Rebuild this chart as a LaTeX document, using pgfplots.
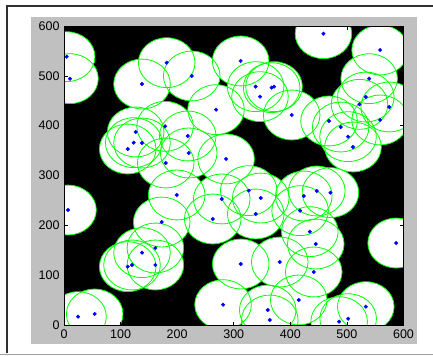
\documentclass[border=0pt]{standalone}
\usepackage{pgfplots}
\usepackage{pgfplotstable}
\pgfplotsset{compat=1.18}
\usepackage{fontspec}
\setmainfont{Liberation Sans}
\definecolor{figgray}{HTML}{C0C0C0}
\definecolor{frameDark}{HTML}{303030}
\definecolor{frameLight}{HTML}{A0A0A0}
\pgfdeclareplotmark{diskfill}{\pgfpathellipse{\pgfpointorigin}{\pgfqpoint{28.29pt}{0pt}}{\pgfqpoint{0pt}{24.92pt}}\pgfusepathqfill}
\pgfdeclareplotmark{diskline}{\pgfpathellipse{\pgfpointorigin}{\pgfqpoint{28.29pt}{0pt}}{\pgfqpoint{0pt}{24.92pt}}\pgfusepathqstroke}
\pgfplotstableread{
x y
4.7 538.4
10.6 494.3
181.5 526.4
225.7 499.7
137.9 483.6
312.2 529.8
338.7 478.3
346.4 458.2
367.0 476.3
371.2 478.3
268.7 432.1
402.4 421.4
458.5 584.6
558.7 551.8
539.3 494.3
533.4 457.5
522.2 442.8
574.7 437.5
558.7 411.4
468.4 409.4
489.0 397.3
502.0 377.9
510.8 357.2
178.6 398.7
126.7 387.3
123.2 365.9
137.9 365.2
112.6 353.2
218.7 379.3
220.4 345.2
179.8 325.1
286.5 333.2
199.2 260.9
278.8 252.9
326.5 269.6
347.7 254.8
338.9 222.7
262.9 212.7
423.8 258.8
446.8 268.9
470.9 265.6
417.3 229.4
434.4 187.3
445.0 162.5
441.4 106.4
381.3 126.4
312.4 122.4
414.9 50.2
360.1 30.1
363.7 10.0
486.3 6.7
502.2 12.7
533.4 36.8
281.1 40.8
587.0 164.5
7.1 230.7
172.7 206.6
137.9 145.1
161.5 154.5
120.2 120.4
112.6 117.0
161.5 120.4
24.8 16.7
54.2 22.1
}\centers
\begin{document}
\begin{tikzpicture}[x=1pt,y=1pt]
\path[use as bounding box] (0,0) rectangle (433,356);
\fill[white] (0,0) rectangle (433,356);
\draw[frameLight, line width=1pt] (0,1.5) -- (433,1.5);
\draw[frameDark, line width=1.6pt] (7,3) -- (7,350) -- (433,350);
\fill[figgray] (31,12.5) rectangle (416.5,339.3);
\begin{axis}[
  at={(64pt,31pt)}, anchor=south west,
  scale only axis, width=339.5pt, height=299pt,
  xmin=0, xmax=600, ymin=0, ymax=600,
  xtick={0,100,...,600}, ytick={0,100,...,600},
  axis background/.style={fill=black},
  axis on top,
  clip marker paths=true,
  tick align=inside,
  major tick length=3.5pt,
  tick style={black, line width=0.6pt},
  axis line style={black, line width=0.8pt},
  /pgf/number format/assume math mode=true,
  ticklabel style={font=\fontsize{12.5}{14}\selectfont},
  xticklabel style={yshift=-1pt},
  yticklabel style={xshift=-1pt},
]
\addplot[only marks, mark=diskfill, mark options={fill=white, draw=none}] table {\centers};
\addplot[only marks, mark=diskline, mark options={draw=green, line width=0.8pt}] table {\centers};
\addplot[only marks, mark=*, mark size=1.8pt, color=blue, mark options={fill=blue, draw=blue}] table {\centers};
\end{axis}
\end{tikzpicture}
\end{document}
